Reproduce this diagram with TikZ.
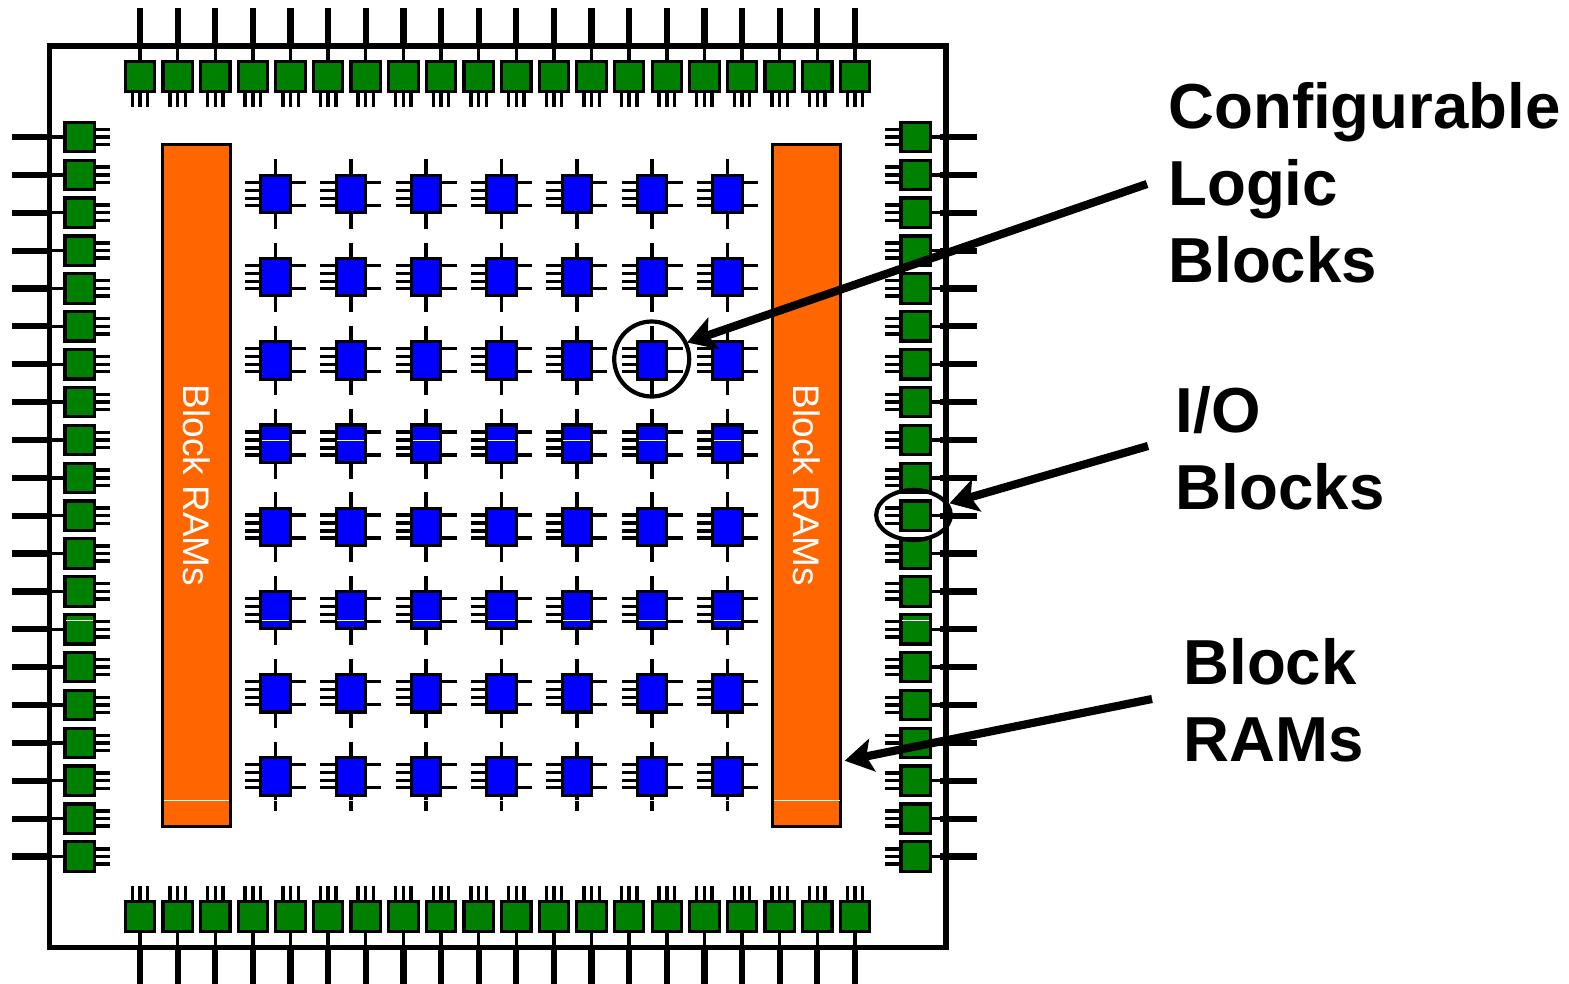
\documentclass[tikz,border=0pt]{standalone}
\usepackage{fontspec}
\setmainfont{Liberation Sans}
\usetikzlibrary{arrows.meta}
\definecolor{padgreen}{HTML}{008000}
\definecolor{clbblue}{HTML}{0000FF}
\definecolor{ramorange}{HTML}{FF6600}
\tikzset{
  pad/.style={draw=black,line width=1.6pt,fill=padgreen,minimum size=14.7pt,inner sep=0pt,outer sep=0pt},
  clb/.style={draw=black,line width=1.6pt,fill=clbblue,minimum width=14.7pt,minimum height=18.7pt,inner sep=0pt,outer sep=0pt},
  ram/.style={draw=black,line width=1.6pt,fill=ramorange,minimum width=33.7pt,minimum height=340.9pt,inner sep=0pt,outer sep=0pt},
  ramtext/.style={text=white,font=\fontsize{18.5}{22}\selectfont,rotate=-90,inner sep=0pt},
  thinpin/.style={line width=1.7pt},
  tallpin/.style={line width=3.1pt},
  frame/.style={draw=black,line width=2.8pt},
  ring/.style={draw=black,line width=2.1pt},
  pointer/.style={line width=4.1pt,-{Stealth[length=14pt,width=16.5pt,inset=3pt]}},
  glint/.style={draw=white,line width=0.5pt},
  biglabel/.style={font=\fontsize{31.8}{38.5}\selectfont\bfseries,align=left,anchor=north west,inner sep=0pt},
}
\begin{document}
\begin{tikzpicture}[x=0.5pt,y=-0.5pt]
\useasboundingbox (0,0) rectangle (1569,984);
% chip outline
\draw[frame] (49.5,46) rectangle (945.7,947.3);
% top and bottom I/O blocks
\foreach \i in {0,...,19}{
  \pgfmathsetmacro{\xx}{140+\i*37.63}
  \draw[tallpin] (\xx,8) -- (\xx,46);
  \draw[thinpin] (\xx,46) -- (\xx,62);
  \foreach \o in {-7.7,0,7.7}{\draw[thinpin] (\xx+\o,90) -- (\xx+\o,107.5);}
  \node[pad] (top\i) at (\xx,76.5) {};
  \draw[tallpin] (\xx,947) -- (\xx,984);
  \draw[thinpin] (\xx,930) -- (\xx,947);
  \foreach \o in {-7.7,0,7.7}{\draw[thinpin] (\xx+\o,886) -- (\xx+\o,902);}
  \node[pad] (bot\i) at (\xx,916.5) {};
}
% left and right I/O blocks
\foreach \i in {0,...,19}{
  \pgfmathsetmacro{\yy}{137+\i*37.87}
  \draw[tallpin] (12,\yy) -- (49,\yy);
  \draw[thinpin] (49,\yy) -- (66,\yy);
  \foreach \o in {-7.7,0,7.5}{\draw[thinpin] (94,\yy+\o) -- (110,\yy+\o);}
  \node[pad] (lft\i) at (79.7,\yy) {};
  \draw[tallpin] (940,\yy) -- (977,\yy);
  \draw[thinpin] (930,\yy) -- (946,\yy);
  \foreach \o in {-7.7,0,7.5}{\draw[thinpin] (885,\yy+\o) -- (902,\yy+\o);}
  \node[pad] (rgt\i) at (915.7,\yy) {};
}
\draw[glint] (66,620.3) -- (93.3,620.3);
\draw[glint] (902,620.3) -- (929.4,620.3);
% block RAMs
\node[ram] (ramL) at (196.4,485.2) {};
\node[ram] (ramR) at (806.4,485.2) {};
\draw[glint] (163.5,800.3) -- (229,800.3);
\draw[glint] (774,800.3) -- (839.5,800.3);
\node[ramtext] (ramLtext) at (197,485.5) {Block RAMs};
\node[ramtext] (ramRtext) at (807,485.5) {Block RAMs};
% configurable logic blocks
\foreach \c in {0,...,6}{
  \foreach \r in {0,...,7}{
    \pgfmathsetmacro{\xx}{275.5+\c*75.33}
    \pgfmathsetmacro{\yy}{194+\r*83.2}
    \draw[thinpin] (\xx,\yy-34.5) -- (\xx,\yy-18);
    \draw[thinpin] (\xx,\yy+18) -- (\xx,\yy+35);
    \foreach \o in {-11.7,-3.7,4.3,11.3}{\draw[thinpin] (\xx-30.5,\yy+\o) -- (\xx-14,\yy+\o);}
    \foreach \o in {-11.7,11.3}{\draw[thinpin] (\xx+14,\yy+\o) -- (\xx+30.5,\yy+\o);}
    \node[clb] (clb\c\r) at (\xx,\yy) {};
  }
  \pgfmathsetmacro{\xx}{275.5+\c*75.33}
  \draw[glint] (\xx-13.5,440.3) -- (\xx+13.5,440.3);
  \draw[glint] (\xx-13.5,620) -- (\xx+13.5,620);
  \draw[glint] (\xx-2.5,800.3) -- (\xx+2.5,800.3);
}
% highlight rings
\node[ring,circle,minimum size=37.5pt,inner sep=0pt] (clbring) at (651.7,359) {};
\draw[ring] (913.5,515) ellipse [x radius=37.3,y radius=25];
% labels
\node[biglabel] (clblabel) at (1168,82) {Configurable\\Logic\\Blocks};
\node[biglabel] (iolabel) at (1175.5,386) {I/O\\Blocks};
\node[biglabel] (ramlabel) at (1183,638) {Block\\RAMs};
% arrows
\coordinate (clbfrom) at (1147,184);
\coordinate (clbtip) at (687,342.5);
\coordinate (iofrom) at (1148,446);
\coordinate (iotip) at (949.5,503.3);
\coordinate (ramfrom) at (1152,699);
\coordinate (ramtip) at (844.7,760.7);
\draw[pointer] (clbfrom) -- (clbtip);
\draw[pointer] (iofrom) -- (iotip);
\draw[pointer] (ramfrom) -- (ramtip);
\end{tikzpicture}
\end{document}
